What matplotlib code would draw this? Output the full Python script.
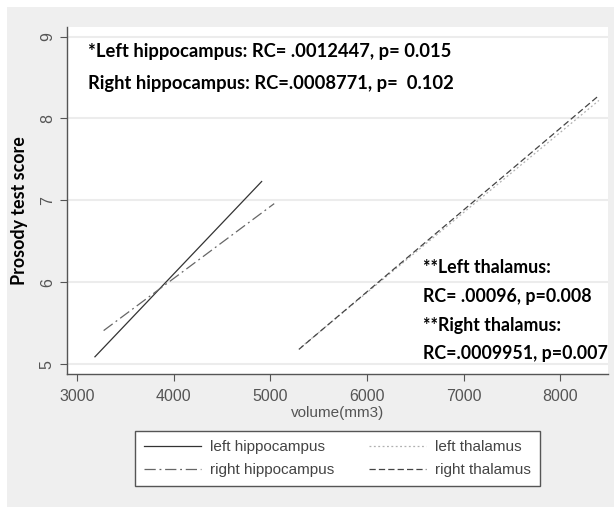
import matplotlib.pyplot as plt
from matplotlib.patches import Rectangle

# fitted regression lines (end points)
series = ['left hippocampus', 'right hippocampus', 'left thalamus', 'right thalamus']
x_start = [3185, 3275, 5320, 5295]
x_end = [4910, 5040, 8400, 8390]
y_start = [5.09, 5.41, 5.21, 5.18]
y_end = [7.23, 6.96, 8.22, 8.27]

x_ticks = [3000, 4000, 5000, 6000, 7000, 8000]
y_ticks = [5, 6, 7, 8, 9]

notes_top = ['*Left hippocampus: RC= .0012447, p= 0.015',
             'Right hippocampus: RC=.0008771, p=  0.102']
notes_thal = ['**Left thalamus:', 'RC= .00096, p=0.008',
              '**Right thalamus:', 'RC=.0009951, p=0.007']

styles = [dict(color='#333333', linestyle='-'),
          dict(color='#666666', linestyle=(0, (9, 3, 1.5, 3))),
          dict(color='#b0b0b0', linestyle=(0, (1.5, 2))),
          dict(color='#444444', linestyle=(0, (5, 2.5)))]

fig = plt.figure(figsize=(6.14, 5.08), dpi=100)
fig.patch.set_facecolor('white')
fig.patches.append(Rectangle((7 / 614, 1 / 508), 1, 500 / 508, transform=fig.transFigure,
                             facecolor='#efefef', edgecolor='none', zorder=-10))

ax = fig.add_axes([67.3 / 614, 1 - 374 / 508, (608 - 67.3) / 614, (374 - 26.7) / 508])
ax.set_facecolor('white')

handles = []
for i in range(len(series)):
    h, = ax.plot([x_start[i], x_end[i]], [y_start[i], y_end[i]], lw=0.9,
                 label=series[i], **styles[i])
    handles.append(h)

ax.set_xlim(2899, 8494)
ax.set_ylim(4.88, 9.12)
ax.set_xticks(x_ticks)
ax.set_yticks(y_ticks)
ax.yaxis.grid(True, color='#ececec', lw=1.5)
ax.set_axisbelow(True)

for s in ['top', 'right']:
    ax.spines[s].set_visible(False)
for s in ['left', 'bottom']:
    ax.spines[s].set_color('#555555')
    ax.spines[s].set_linewidth(1.0)
ax.tick_params(direction='out', length=5, color='#555555', labelcolor='#555555',
               labelsize=11.5)
ax.tick_params(axis='x', pad=5.5)
ax.tick_params(axis='y', pad=4)
for lab in ax.get_xticklabels() + ax.get_yticklabels():
    lab.set_family('Liberation Sans')
for lab in ax.get_yticklabels():
    lab.set_rotation(90)
    lab.set_va('center')

ax.set_xlabel('volume(mm3)', family='Liberation Sans', fontsize=11, color='#555555',
              labelpad=1.5)
ax.set_ylabel('Prosody test score', family='Lato', fontweight='bold', fontsize=12.9,
              color='black')
ax.yaxis.set_label_coords(-0.0736, 0.4708)

for txt, yy in zip(notes_top, [8.82, 8.43]):
    ax.text(3110, yy, txt, family='Lato', fontweight='bold', fontsize=13.2, va='center')
for txt, yy in zip(notes_thal, [6.18, 5.83, 5.47, 5.13]):
    ax.text(6580, yy, txt, family='Lato', fontweight='bold', fontsize=12.8, va='center')

leg = fig.legend(handles=handles, ncol=2, loc='upper left',
                 bbox_to_anchor=(135 / 614, 1 - 431 / 508), borderaxespad=0,
                 prop=dict(family='Liberation Sans', size=11),
                 handlelength=3.7, handletextpad=0.6, columnspacing=2.3,
                 labelspacing=0.57, borderpad=0.6, fancybox=False, framealpha=1)
leg.get_frame().set_edgecolor('#555555')
leg.get_frame().set_linewidth(1.0)
for t in leg.get_texts():
    t.set_color('#444444')

fig.savefig('out.png', dpi=100)
